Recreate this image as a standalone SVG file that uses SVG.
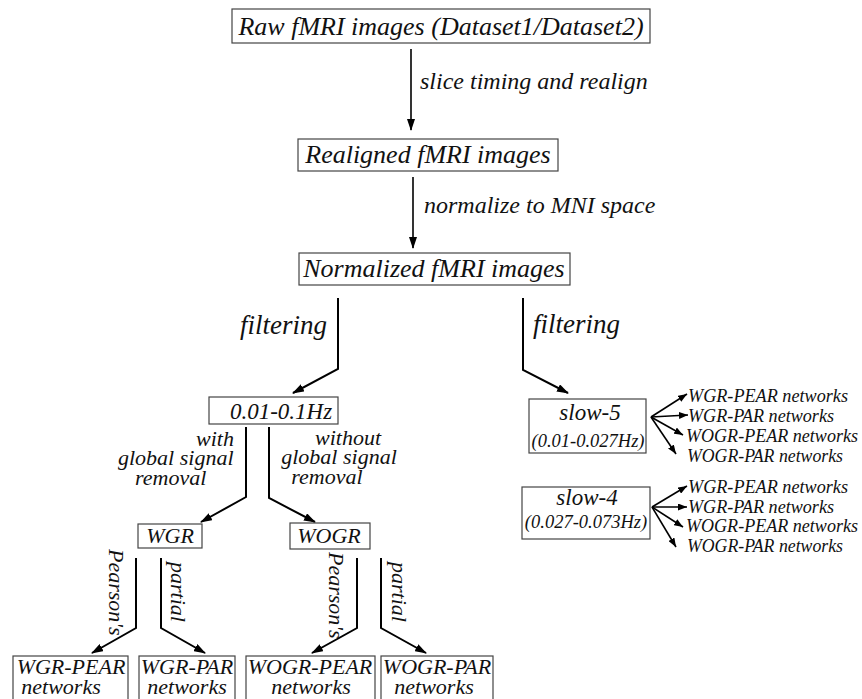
<svg xmlns="http://www.w3.org/2000/svg" width="862" height="699" viewBox="0 0 862 699">
<defs>
<style>
text{font-family:"Liberation Serif","Times New Roman",serif;font-style:italic;fill:#111}
.box{fill:#fff;stroke:#444;stroke-width:1.2}
.big{font-size:26px}
.lbl{font-size:24px}
.mid{font-size:22px}
.sm{font-size:18.5px}
.net{font-size:18px}
.fl{font-size:27px}
.c{text-anchor:middle}
.e{text-anchor:end}
.ln{fill:none;stroke:#000;stroke-width:2}
.thin{fill:none;stroke:#000;stroke-width:1.6}
.fan{fill:none;stroke:#000;stroke-width:1.6}
</style>
<marker id="ah" markerUnits="userSpaceOnUse" markerWidth="12" markerHeight="8" refX="11" refY="4" orient="auto">
<path d="M0,0 L12,4 L0,8 z" fill="#000"/>
</marker>
<marker id="ahs" markerUnits="userSpaceOnUse" markerWidth="9" markerHeight="7" refX="9" refY="3.5" orient="auto">
<path d="M0,0 L9,3.5 L0,7 z" fill="#000"/>
</marker>
</defs>
<rect width="862" height="699" fill="#fff"/>

<g id="connectors">
<path class="thin" d="M411,49 V130" marker-end="url(#ah)"/>
<path class="thin" d="M413,177 V248" marker-end="url(#ah)"/>
<path class="ln" d="M338,298 V369 L293,393" marker-end="url(#ah)"/>
<path class="ln" d="M523,298 V370 L568,393" marker-end="url(#ah)"/>
<path class="ln" d="M246,427 V497 L201,522" marker-end="url(#ah)"/>
<path class="ln" d="M269,427 V498 L315,522" marker-end="url(#ah)"/>
<path class="ln" d="M136,558 V628 L92,653" marker-end="url(#ah)"/>
<path class="ln" d="M161,558 V628 L205,653" marker-end="url(#ah)"/>
<path class="ln" d="M357,558 V628 L312,653" marker-end="url(#ah)"/>
<path class="ln" d="M381,558 V628 L426,653" marker-end="url(#ah)"/>
<path class="fan" d="M651,417 L687,394" marker-end="url(#ahs)"/>
<path class="fan" d="M651,417 L688,415" marker-end="url(#ahs)"/>
<path class="fan" d="M651,417 L683,435" marker-end="url(#ahs)"/>
<path class="fan" d="M651,417 L676,454" marker-end="url(#ahs)"/>
<path class="fan" d="M652,507 L687,486" marker-end="url(#ahs)"/>
<path class="fan" d="M652,507 L687,507" marker-end="url(#ahs)"/>
<path class="fan" d="M652,507 L683,527" marker-end="url(#ahs)"/>
<path class="fan" d="M652,507 L676,547" marker-end="url(#ahs)"/>
<text class="lbl" x="420" y="89">slice timing and realign</text>
<text class="lbl" x="424" y="213">normalize to MNI space</text>
<text class="fl e" x="327" y="334">filtering</text>
<text class="fl" x="533" y="333">filtering</text>
<text class="mid" x="196" y="446">with</text>
<text class="mid" x="118" y="465">global signal</text>
<text class="mid" x="135" y="485">removal</text>
<text class="mid c" x="348" y="445">without</text>
<text class="mid c" x="339" y="464">global signal</text>
<text class="mid c" x="327" y="484">removal</text>
<text class="mid" transform="translate(109,549) rotate(90)">Pearson's</text>
<text class="mid" transform="translate(171,562) rotate(90)">partial</text>
<text class="mid" transform="translate(329,552) rotate(90)">Pearson's</text>
<text class="mid" transform="translate(392,562) rotate(90)">partial</text>
</g>

<g id="raw"><rect class="box" x="232" y="9" width="418" height="34"/><text class="big c" x="441" y="35">Raw fMRI images (Dataset1/Dataset2)</text></g>
<g id="realigned"><rect class="box" x="298" y="139" width="260" height="32"/><text class="big c" x="428" y="163">Realigned fMRI images</text></g>
<g id="normalized"><rect class="box" x="299" y="253" width="271" height="32"/><text class="big c" x="434" y="277">Normalized fMRI images</text></g>
<g id="band01"><rect class="box" x="209" y="397" width="129" height="27"/><text class="mid c" x="281" y="419" style="font-size:23px">0.01-0.1Hz</text></g>
<g id="wgr"><rect class="box" x="138" y="524" width="64" height="24"/><text class="mid c" x="170" y="543">WGR</text></g>
<g id="wogr"><rect class="box" x="290" y="523" width="80" height="26"/><text class="mid c" x="329" y="543">WOGR</text></g>
<g id="slow5"><rect class="box" x="529" y="399" width="117" height="54"/><text class="mid c" x="590" y="420" style="font-size:23px">slow-5</text><text class="sm c" x="588" y="447">(0.01-0.027Hz)</text></g>
<g id="slow4"><rect class="box" x="522" y="487" width="128" height="52"/><text class="mid c" x="587" y="505" style="font-size:23px">slow-4</text><text class="sm c" x="586" y="528">(0.027-0.073Hz)</text></g>
<g id="slow5-out">
<text class="net" x="688" y="402" textLength="160" lengthAdjust="spacingAndGlyphs">WGR-PEAR networks</text>
<text class="net" x="688" y="422" textLength="146" lengthAdjust="spacingAndGlyphs">WGR-PAR networks</text>
<text class="net" x="686" y="442" textLength="172" lengthAdjust="spacingAndGlyphs">WOGR-PEAR networks</text>
<text class="net" x="687" y="462" textLength="156" lengthAdjust="spacingAndGlyphs">WOGR-PAR networks</text>
</g>
<g id="slow4-out">
<text class="net" x="688" y="493" textLength="160" lengthAdjust="spacingAndGlyphs">WGR-PEAR networks</text>
<text class="net" x="688" y="513" textLength="146" lengthAdjust="spacingAndGlyphs">WGR-PAR networks</text>
<text class="net" x="686" y="532" textLength="172" lengthAdjust="spacingAndGlyphs">WOGR-PEAR networks</text>
<text class="net" x="687" y="552" textLength="156" lengthAdjust="spacingAndGlyphs">WOGR-PAR networks</text>
</g>
<g id="wgr-pear"><rect class="box" x="13" y="656" width="115" height="50"/><text class="mid c" x="71" y="674">WGR-PEAR</text><text class="mid c" x="61" y="694">networks</text></g>
<g id="wgr-par"><rect class="box" x="139" y="656" width="96" height="50"/><text class="mid c" x="187" y="674">WGR-PAR</text><text class="mid c" x="187" y="694">networks</text></g>
<g id="wogr-pear"><rect class="box" x="246" y="656" width="129" height="50"/><text class="mid c" x="310" y="674">WOGR-PEAR</text><text class="mid c" x="311" y="694">networks</text></g>
<g id="wogr-par"><rect class="box" x="381" y="656" width="112" height="50"/><text class="mid c" x="437" y="674">WOGR-PAR</text><text class="mid c" x="434" y="694">networks</text></g>
</svg>
